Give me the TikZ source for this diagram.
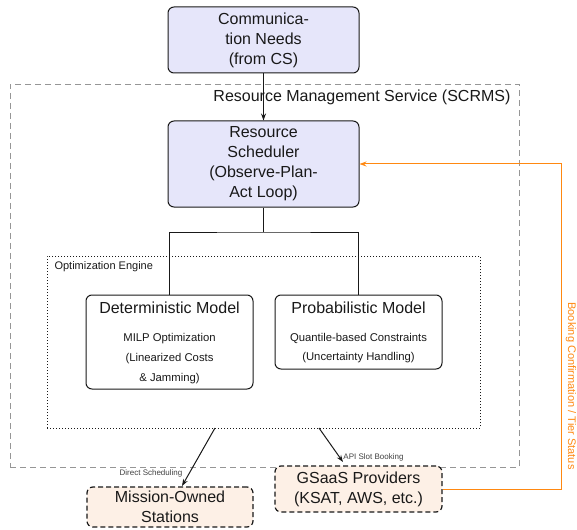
\documentclass[tikz,border=0pt]{standalone}
\usepackage{fontspec}
\setmainfont{Liberation Sans}
\usetikzlibrary{arrows.meta}
\definecolor{lav}{RGB}{230,230,250}
\definecolor{peach}{RGB}{253,240,230}
\definecolor{orng}{RGB}{255,136,17}
\definecolor{dgray}{RGB}{150,150,150}
\definecolor{ink}{RGB}{25,25,25}
\begin{document}
\begin{tikzpicture}[x=1pt,y=-1pt,
  big/.style={font=\fontsize{16}{20}\selectfont},
  small/.style={font=\fontsize{11.3}{20}\selectfont},
  tiny/.style={font=\fontsize{8}{10}\selectfont, text=black!75},
  bluebox/.style={draw=ink, line width=1pt, fill=lav, rounded corners=6pt,
    align=center, big, text=ink, inner sep=0pt},
  modelbox/.style={draw=ink, line width=1pt, rounded corners=6pt, inner sep=0pt},
  extbox/.style={draw=ink, line width=1.2pt, dash pattern=on 5pt off 3pt,
    fill=peach, rounded corners=6pt, align=center, big, text=ink, inner sep=0pt},
  conn/.style={draw=ink, line width=1pt},
  arr/.style={conn, -{Stealth[length=7pt,width=5pt]}},
  scrmsbox/.style={draw=dgray, line width=0.8pt, dash pattern=on 6pt off 4pt, inner sep=0pt},
  optbox/.style={draw=ink, line width=1pt, dash pattern=on 1pt off 2pt, inner sep=0pt},
  fb/.style={draw=orng, line width=1pt, -{Stealth[length=7pt,width=5pt]}}
]
\useasboundingbox (0,0) rectangle (577,529);

% containers
\node[scrmsbox, minimum width=509pt, minimum height=383pt] (scrms) at (264.5,275.5) {};
\node[big, anchor=east, text=ink] (scrmslabel) at (514,97) {Resource Management Service (SCRMS)};
\node[optbox, minimum width=433pt, minimum height=172pt] (opt) at (263.5,342) {};
\node[font=\fontsize{11}{13}\selectfont, anchor=west, text=ink] (optlabel) at (51,267) {Optimization Engine};

% main boxes
\node[bluebox, minimum width=191pt, minimum height=66pt] (comm) at (263.5,40)
  {Communica-\\tion Needs\\(from CS)};
\node[bluebox, minimum width=191pt, minimum height=86pt] (sched) at (263.5,164)
  {Resource\\Scheduler\\(Observe-Plan-\\Act Loop)};

% models
\node[modelbox, minimum width=167pt, minimum height=94pt] (det) at (169.5,342) {};
\node[big, text=ink] (dett) at (169.5,307.5) {Deterministic Model};
\node[small, text=ink] (det1) at (169.5,339) {MILP Optimization};
\node[small, text=ink] (det2) at (169.5,359) {(Linearized Costs};
\node[small, text=ink] (det3) at (169.5,378.5) {\& Jamming)};

\node[modelbox, minimum width=167pt, minimum height=74pt] (prob) at (358.5,332) {};
\node[big, text=ink] (probt) at (358.5,307.5) {Probabilistic Model};
\node[small, text=ink] (prob1) at (358.5,338) {Quantile-based Constraints};
\node[small, text=ink] (prob2) at (358.5,358) {(Uncertainty Handling)};

% external boxes
\node[extbox, minimum width=166pt, minimum height=40pt] (mission) at (170,507)
  {Mission-Owned\\Stations};
\node[extbox, minimum width=167pt, minimum height=46pt] (gsaas) at (358.5,489)
  {GSaaS Providers\\(KSAT, AWS, etc.)};

% connectors
\coordinate (j) at (263.5,232);
\draw[arr] (comm.south) -- (sched.north);
\draw[conn] (sched.south) -- (j);
\draw[conn] (det.north) |- (j) -| (prob.north);

\coordinate (d1) at (215,428);
\coordinate (d2) at (182,486);
\coordinate (a1) at (319,428);
\coordinate (a2) at (343,462);
\draw[arr] (d1) -- (d2);
\draw[arr] (a1) -- (a2);
\node[tiny] (dslabel) at (151,473) {Direct Scheduling};
\node[tiny] (apilabel) at (373.5,457) {API Slot Booking};

\coordinate (oc) at (561.5,164);
\draw[fb] (gsaas.east) -| (oc) -- (sched.east);
\node[font=\fontsize{11}{13}\selectfont, text=orng, rotate=-90] (fblabel) at (571,386)
  {Booking Confirmation / Tier Status};
\end{tikzpicture}
\end{document}
